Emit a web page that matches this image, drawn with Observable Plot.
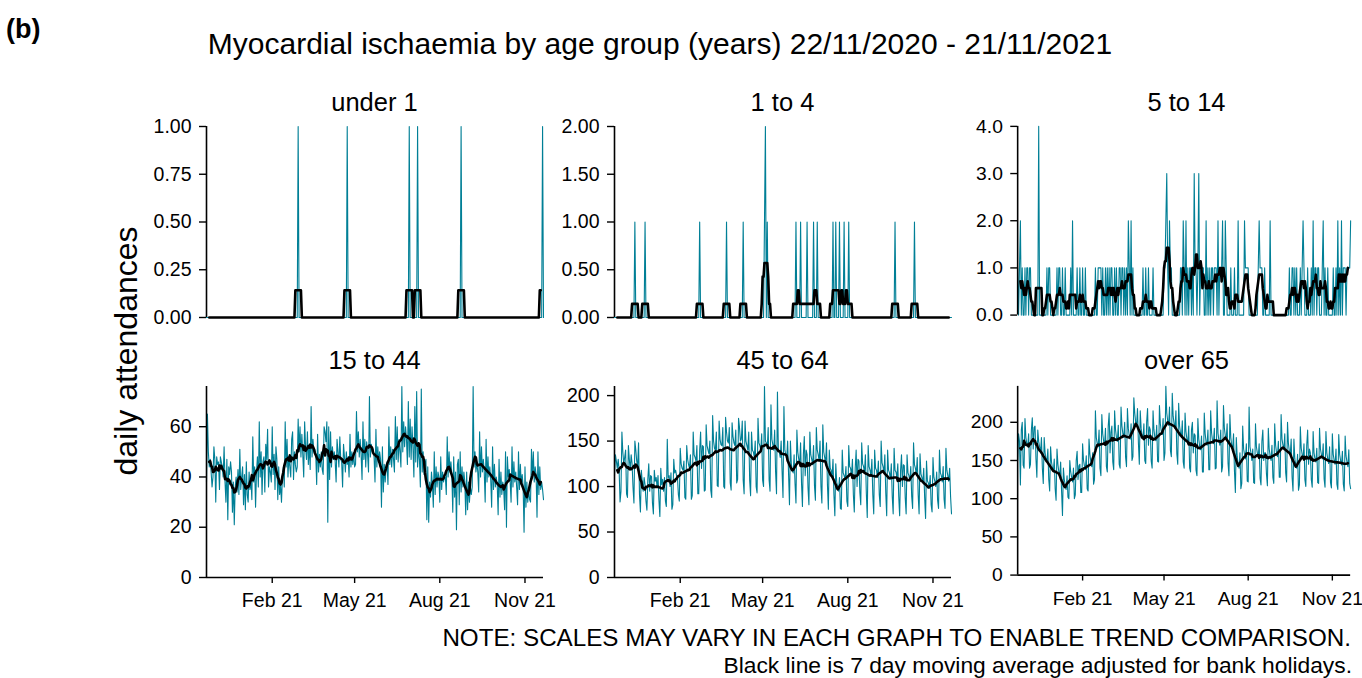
<!DOCTYPE html>
<html><head><meta charset="utf-8">
<script src="https://cdn.jsdelivr.net/npm/d3@7"></script>
<script src="https://cdn.jsdelivr.net/npm/@observablehq/plot@0.6"></script>
<style>
body{margin:0;background:#fff;font-family:"Liberation Sans",Arial,sans-serif;}
#wrap{position:relative;width:1362px;height:678px;overflow:hidden;background:#fff;}
.t{position:absolute;white-space:nowrap;color:#000;line-height:1;}
.panel{position:absolute;}
.panel svg{overflow:visible;}
.panel g[aria-label$="tick"] path{stroke-width:1.4;}
</style></head><body><div id="wrap"></div>
<script>
// ---------- data ----------
const startDate = "2020-11-22";
const nDays = 365;
const panelTitles = ["under 1","1 to 4","5 to 14","15 to 44","45 to 64","over 65"];
const mainTitle = "Myocardial ischaemia by age group (years) 22/11/2020 - 21/11/2021";
const yLabel = "daily attendances";
const noteLines = ["NOTE: SCALES MAY VARY IN EACH GRAPH TO ENABLE TREND COMPARISON.",
                   "Black line is 7 day moving average adjusted for bank holidays."];
const xTickDates = ["2021-02-01","2021-05-01","2021-08-01","2021-11-01"];

// sparse panels: [day index, attendances]; all other days are 0
const under1Spikes = [[99,1],[152,1],[219,1],[228,1],[275,1],[363,1]];
const age1to4Spikes = [[22,1],[33,1],[92,1],[121,1],[139,1],[162,1],[163,2],[165,1],
  [196,1],[201,1],[208,1],[215,1],[219,1],[236,1],[239,1],[243,1],[248,1],[253,1],[303,1],[324,1]];

const age5to14 = [
1,0,1,2,0,1,0, 0,1,0,1,1,0,1, 1,0,0,0,0,0,0, 0,0,4,0,0,0,0, 0,0,0,0,1,0,1,
1,0,0,0,0,0,0, 0,1,0,1,1,0,0, 1,0,0,1,0,0,0, 0,0,1,0,2,0,0, 0,0,1,0,0,1,0,
0,1,0,0,1,0,0, 0,0,0,0,0,0,0, 0,1,0,0,1,1,1, 1,0,1,0,0,1,0, 1,0,1,0,1,1,0,
0,1,0,1,0,0,1, 1,0,1,1,0,1,0, 1,0,2,1,0,2,0, 1,0,0,0,0,0,0, 0,0,0,0,1,0,0,
1,0,0,1,0,0,0, 0,1,0,0,0,0,0, 0,0,0,0,0,0,1, 1,2,3,1,0,2,1, 1,0,0,0,0,0,0,
0,0,0,1,1,0,2, 1,0,2,0,1,0,1, 1,0,1,0,3,1,1, 0,1,3,0,1,1,1, 1,0,0,2,0,1,0,
1,0,1,1,0,1,1, 1,0,2,0,1,1,1, 2,0,0,2,1,0,0, 0,0,1,0,0,0,1, 0,0,0,2,0,0,0,
0,0,0,2,1,1,1, 1,0,0,0,0,0,0, 0,0,0,0,1,2,1, 1,1,0,0,1,0,0, 0,0,0,2,0,0,0,
0,0,0,0,0,0,0, 0,0,0,0,0,0,0, 0,0,0,1,0,0,1, 1,0,1,0,1,0,0, 0,1,0,1,2,1,0,
0,0,1,0,0,0,1, 0,2,0,1,1,0,1, 1,0,0,0,1,2,0, 1,0,0,1,0,0,0, 0,0,1,0,0,1,0,
2,0,1,0,2,0,1, 1,1,0,1,1,1,1, 2];

const age15to44 = [
38,65,50,44,47,42,36, 40,52,47,30,48,45,46, 35,48,46,44,40,52,38, 30,47,23,44,41,46,42,
26,38,21,36,40,34,43, 33,51,35,40,44,29,41, 27,46,33,30,42,35,39, 31,56,38,44,28,42,48,
36,62,40,50,33,46,48, 34,53,47,59,36,44,42, 38,60,41,49,35,52,47, 31,44,33,37,30,40,44,
36,62,44,55,40,48,44, 40,55,58,39,50,45,42, 44,63,50,60,48,57,49, 40,62,52,47,58,45,53,
43,68,48,55,50,51,49, 37,57,42,49,44,50,43, 41,60,58,54,62,22,60, 39,58,44,52,47,50,46,
38,55,50,44,56,47,46, 36,53,48,42,50,45,48, 40,57,44,50,45,49,44, 45,66,50,58,48,55,49,
39,62,47,55,44,54,49, 42,72,48,53,50,51,48, 38,59,44,52,46,50,47, 28,52,34,45,38,44,46,
37,60,45,52,44,51,47, 42,64,47,60,46,55,50, 44,76,50,62,52,60,55, 45,70,48,63,47,60,52,
40,68,46,74,44,52,47, 36,75,42,50,41,45,47, 23,44,22,38,32,42,37, 28,50,33,44,36,42,40,
30,48,35,42,38,40,40, 33,56,40,50,42,46,41, 26,48,32,42,19,45,47, 29,50,34,44,36,42,38,
25,42,27,38,30,36,33, 36,76,44,50,42,46,42, 34,58,40,52,42,47,42, 30,55,38,48,40,44,39,
28,52,35,45,36,40,37, 25,47,32,42,33,38,35, 27,50,20,48,40,43,38, 30,52,36,46,38,42,36,
29,50,35,45,37,41,36, 18,44,28,38,30,35,31, 30,51,40,50,38,44,41, 24,50,33,44,35,38,35,
31];

const age45to64 = [
112,135,128,120,130,118,83, 95,160,138,125,132,140,92, 88,145,130,118,135,125,99, 82,150,140,128,122,148,91,
72,118,105,95,110,102,84, 74,108,125,95,112,111,82, 70,118,106,110,99,112,85, 67,120,102,108,95,110,84,
78,152,110,112,100,115,75, 80,130,115,118,112,110,91, 84,142,125,120,118,128,88, 86,145,130,124,120,135,86,
90,160,135,132,128,145,92, 92,140,160,120,145,144,95, 96,168,145,140,136,150,96, 88,178,150,142,140,160,101,
100,172,152,146,145,165,100, 98,176,160,150,148,165,104, 96,170,155,148,145,162,104, 108,175,165,150,152,172,107,
92,172,150,145,140,160,107, 90,160,140,138,132,150,100, 93,175,148,145,140,158,107, 100,210,150,148,142,165,107,
95,190,152,146,140,162,116, 92,204,140,138,132,150,117, 88,188,140,135,130,150,114, 80,150,125,118,115,135,103,
82,162,138,130,125,148,104, 78,135,155,112,140,135,99, 80,160,135,130,124,145,101, 85,165,140,135,128,150,100,
82,168,138,132,126,148,102, 75,140,120,118,110,130,91, 68,125,105,100,95,110,76, 75,140,115,112,108,122,84,
78,145,122,120,112,130,91, 72,120,140,100,130,128,94, 80,148,125,122,116,135,93, 66,145,122,118,112,130,91,
70,140,120,118,110,128,91, 78,150,126,122,115,135,93, 68,140,118,115,108,125,89, 70,142,118,116,110,125,89,
68,118,135,100,124,123,88, 70,135,115,112,106,122,89, 76,148,124,120,114,132,91, 70,136,114,110,104,120,88,
65,128,106,104,98,112,80, 72,132,110,106,100,116,85, 76,140,115,112,105,122,86, 76,142,118,112,106,120,89,
70];

const over65 = [
150,185,175,118,190,200,144, 140,205,180,172,168,185,140, 145,190,206,165,193,195,152, 128,190,175,168,160,180,140,
120,180,160,152,148,165,125, 110,168,148,140,135,152,113, 98,165,145,135,130,148,110, 78,140,125,118,112,130,102,
100,150,135,128,122,140,100, 105,150,162,125,143,145,108, 108,172,150,143,138,156,113, 110,178,158,148,142,160,119,
125,215,180,172,168,190,140, 130,210,185,175,170,192,142, 135,195,212,160,187,195,148, 138,215,190,180,175,196,145,
140,220,195,185,180,200,154, 142,218,192,182,178,198,150, 155,232,212,200,196,218,173, 145,215,192,182,178,198,150,
146,200,218,170,194,190,149, 140,215,190,180,176,196,149, 148,222,198,188,184,205,150, 160,247,212,202,196,220,163,
155,238,208,198,192,215,159, 145,225,195,186,180,202,148, 140,212,188,178,172,195,140, 135,190,200,160,185,183,137,
130,205,178,168,164,182,135, 135,212,185,174,170,190,138, 138,215,186,176,172,192,139, 140,228,186,176,170,190,135,
142,222,192,182,178,198,146, 130,210,180,170,165,185,136, 108,180,155,145,140,160,113, 120,195,165,158,152,172,123,
122,220,168,160,150,165,121, 120,198,168,160,154,172,127, 118,175,190,150,160,160,132, 117,192,165,156,150,170,128,
120,198,170,160,155,175,128, 128,210,178,170,164,185,134, 122,200,172,162,158,178,128, 110,178,152,145,140,158,111,
118,194,166,158,152,172,125, 116,170,190,145,165,160,125, 115,188,160,152,148,166,121, 120,192,165,158,152,172,126,
115,188,160,152,146,168,121, 114,185,158,150,145,165,119, 112,184,158,150,144,162,119, 110,182,156,148,142,164,120,
113];

// ---------- build ----------
const TEAL = "#007F96";
const dates = d3.range(nDays).map(i => d3.utcDay.offset(new Date(startDate + "T00:00:00Z"), i));
function fromSpikes(spikes) {
  const a = new Array(nDays).fill(0);
  for (const [d, v] of spikes) a[d] = v;
  return a;
}
const panels = [
  {title: panelTitles[0], values: fromSpikes(under1Spikes), ticks: [0,0.25,0.5,0.75,1], fmt: ".2f"},
  {title: panelTitles[1], values: fromSpikes(age1to4Spikes), ticks: [0,0.5,1,1.5,2], fmt: ".2f"},
  {title: panelTitles[2], values: age5to14, ticks: [0,1,2,3,4], fmt: ".1f"},
  {title: panelTitles[3], values: age15to44, ticks: [0,20,40,60], fmt: "d"},
  {title: panelTitles[4], values: age45to64, ticks: [0,50,100,150,200], fmt: "d"},
  {title: panelTitles[5], values: over65, ticks: [0,50,100,150,200], fmt: "d"}
];

const wrap = document.getElementById("wrap");
function addText(txt, css) {
  const d = document.createElement("div");
  d.className = "t";
  d.textContent = txt;
  Object.assign(d.style, css);
  wrap.appendChild(d);
  return d;
}

const colLeft = [206, 614, 1018];
const rowTop = [126, 386];
const plotW = 337, plotH = 191;
const mL = 70, mR = 12, mT = 10, mB = 45;

panels.forEach((p, idx) => {
  const col = idx % 3, row = Math.floor(idx / 3);
  const data = p.values.map((v, i) => ({date: dates[i], value: v}));
  const bottomRow = row === 1;
  const marks = [
    Plot.line(data, {x: "date", y: "value", stroke: TEAL, strokeWidth: 1.1}),
    Plot.line(data, Plot.windowY({k: 7, anchor: "middle", strict: true},
      {x: "date", y: "value", stroke: "#000", strokeWidth: 2.6, strokeLinejoin: "round"})),
    Plot.ruleX([dates[0]], {stroke: "#000", strokeWidth: 1.6})
  ];
  if (bottomRow) marks.push(Plot.ruleY([0], {stroke: "#000", strokeWidth: 1.6}));
  const chart = Plot.plot({
    width: mL + plotW + mR,
    height: mT + plotH + mB,
    marginLeft: mL, marginRight: mR, marginTop: mT, marginBottom: mB,
    style: {fontFamily: '"Liberation Sans", Arial, sans-serif', fontSize: "19.5px", color: "#000", background: "transparent", overflow: "visible"},
    x: {type: "utc", domain: [dates[0], dates[nDays - 1]],
        axis: bottomRow ? "bottom" : null,
        ticks: xTickDates.map(s => new Date(s + "T00:00:00Z")),
        tickFormat: d3.utcFormat("%b %y"), tickSize: 6, tickPadding: 10, label: null},
    y: {domain: [0, d3.max(p.values)], axis: "left", ticks: p.ticks,
        tickFormat: d3.format(p.fmt), tickSize: 7, tickPadding: 8, label: null},
    marks
  });
  const holder = document.createElement("div");
  holder.className = "panel";
  holder.style.left = (colLeft[col] - mL) + "px";
  holder.style.top = (rowTop[row] - mT) + "px";
  holder.appendChild(chart);
  wrap.appendChild(holder);
  addText(p.title, {left: (colLeft[col] + plotW / 2) + "px", top: (row === 0 ? 103 : 361) + "px",
    fontSize: "25.5px", transform: "translate(-50%,-50%)"});
});

addText("(b)", {left: "6px", top: "29px", fontSize: "27px", fontWeight: "bold", transform: "translateY(-50%)"});
addText(mainTitle, {left: "660px", top: "44px", fontSize: "30px", transform: "translate(-50%,-50%)"});
addText(yLabel, {left: "126px", top: "351px", fontSize: "32px", transform: "translate(-50%,-50%) rotate(-90deg)"});
addText(noteLines[0], {right: "11px", top: "638px", fontSize: "24.2px", transform: "translateY(-50%)"});
addText(noteLines[1], {right: "10px", top: "665px", fontSize: "22.8px", transform: "translateY(-50%)"});
</script></body></html>
